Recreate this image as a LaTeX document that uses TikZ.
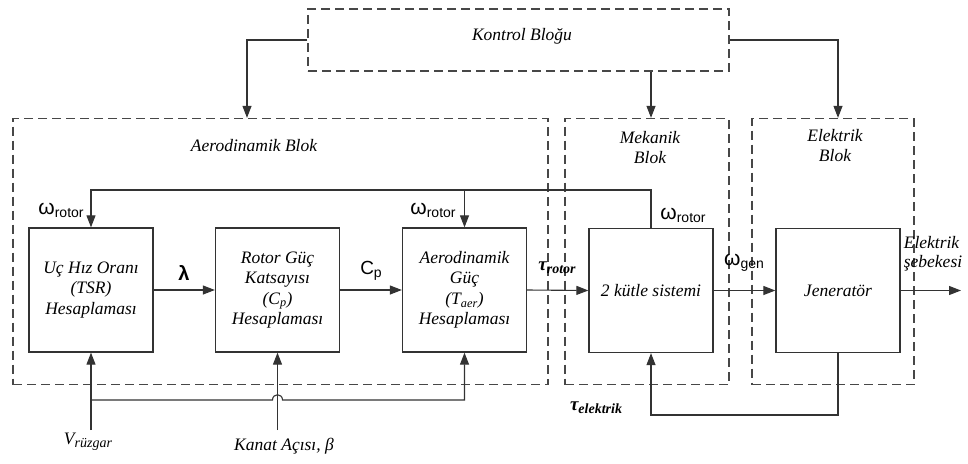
\documentclass[tikz,border=0pt]{standalone}
\usepackage{fontspec}
\setmainfont{Liberation Serif}
\newfontfamily\sansf{Liberation Sans}
\usetikzlibrary{arrows.meta}
\newcommand\wlab[1]{{\sansf\fontsize{21}{21}\selectfont ω\raisebox{-3pt}{\fontsize{14}{14}\selectfont #1}}}
\newcommand\taulab[1]{{\bfseries\itshape\fontsize{19}{19}\selectfont τ\raisebox{-3pt}{\fontsize{14}{14}\selectfont #1}}}
\begin{document}
\begin{tikzpicture}[x=1pt,y=-1pt,
  dbox/.style={draw=black!72,line width=1.3pt,dash pattern=on 9pt off 5pt,inner sep=0pt},
  blk/.style={draw=black!80,line width=1.3pt,minimum width=124pt,minimum height=124pt,inner sep=0pt,align=center,font=\itshape\fontsize{17.5}{20.5}\selectfont},
  arr/.style={draw=black!80,line width=1.1pt,-{Triangle[length=12pt,width=9pt]}},
  ttl/.style={align=center,font=\itshape\fontsize{17.5}{20}\selectfont,inner sep=0pt},
  lab/.style={inner sep=0pt}]
\useasboundingbox (0,0) rectangle (968,463);
% dashed blocks
\node[dbox,minimum width=421pt,minimum height=62pt] (kon) at (518.5,40) {};
\node[ttl] (kont) at (522,36) {Kontrol Bloğu};
\node[dbox,minimum width=535pt,minimum height=266pt] (aero) at (280.5,251.5) {};
\node[ttl] (aerot) at (254,146) {Aerodinamik Blok};
\node[dbox,minimum width=164pt,minimum height=266pt] (mek) at (647,251.5) {};
\node[ttl] (mekt) at (650,148) {Mekanik\\Blok};
\node[dbox,minimum width=162pt,minimum height=266pt] (ele) at (833,251.5) {};
\node[ttl] (elet) at (835,146) {Elektrik\\Blok};
% inner blocks
\node[blk] (tsr) at (91,290) {Uç Hız Oranı\\(TSR)\\Hesaplaması};
\node[blk] (rg) at (277.5,290) {Rotor Güç\\Katsayısı\\(C\textsubscript{p})\\Hesaplaması};
\node[blk] (aer) at (464.5,290) {Aerodinamik\\Güç\\(T\textsubscript{aer})\\Hesaplaması};
\node[blk] (kut) at (651,290.5) {2 kütle sistemi};
\node[blk] (jen) at (838,290.5) {Jeneratör};
% control arrows
\coordinate (la) at (247,0);
\draw[arr] (kon.west) -| (la |- aero.north);
\draw[arr] (kut.north |- kon.south) -- (kut.north |- mek.north);
\draw[arr] (kon.east) -| (jen.north |- ele.north);
% forward chain
\draw[arr] (tsr.east) -- (rg.west);
\draw[arr] (rg.east) -- (aer.west);
\draw[arr] (aer.east) -- (kut.west);
\draw[arr] (kut.east) -- (jen.west);
\coordinate (out) at (961,290.5);
\draw[arr] (jen.east) -- (out);
% feedback omega rotor
\coordinate (fb) at (0,190);
\draw[arr] (kut.north) -- (kut.north |- fb) -| (tsr.north);
\draw[arr] (aer.north |- fb) -- (aer.north);
% wind and pitch inputs
\coordinate (vin) at (91,430);
\coordinate (kin) at (277.5,430);
\coordinate (bus) at (0,400);
\draw[arr] (vin) -- (tsr.south);
\draw[arr] (kin) -- (rg.south);
\draw[arr] (vin |- bus) -- (272.5,400) .. controls +(0,-7) and +(0,-7) .. (282.5,400) -| (aer.south);
% electric torque feedback
\coordinate (tb) at (0,415);
\draw[arr] (jen.south) -- (jen.south |- tb) -| (kut.south);
% labels
\node[lab] (w1) at (61,210) {\wlab{rotor}};
\node[lab] (w2) at (433,210) {\wlab{rotor}};
\node[lab] (w3) at (683,215) {\wlab{rotor}};
\node[lab] (wg) at (744,263) {\wlab{gen}};
\node[lab] (lam) at (184,273) {\sansf\bfseries\fontsize{20}{20}\selectfont λ};
\node[lab] (cp) at (371,271) {\sansf\fontsize{19}{19}\selectfont C\raisebox{-3pt}{\fontsize{14}{14}\selectfont p}};
\node[lab] (tr) at (557,268) {\taulab{rotor}};
\node[lab] (te) at (596,408) {\taulab{elektrik}};
\node[lab,font=\itshape\fontsize{17.5}{19}\selectfont,align=left] (es) at (933,254) {Elektrik\\şebekesi};
\node[lab,font=\itshape\fontsize{17.5}{17.5}\selectfont] (vr) at (88,442) {V\raisebox{-3pt}{\fontsize{14}{14}\selectfont rüzgar}};
\node[lab,font=\itshape\fontsize{17.5}{17.5}\selectfont] (ka) at (284,446) {Kanat Açısı, β};
\end{tikzpicture}
\end{document}
